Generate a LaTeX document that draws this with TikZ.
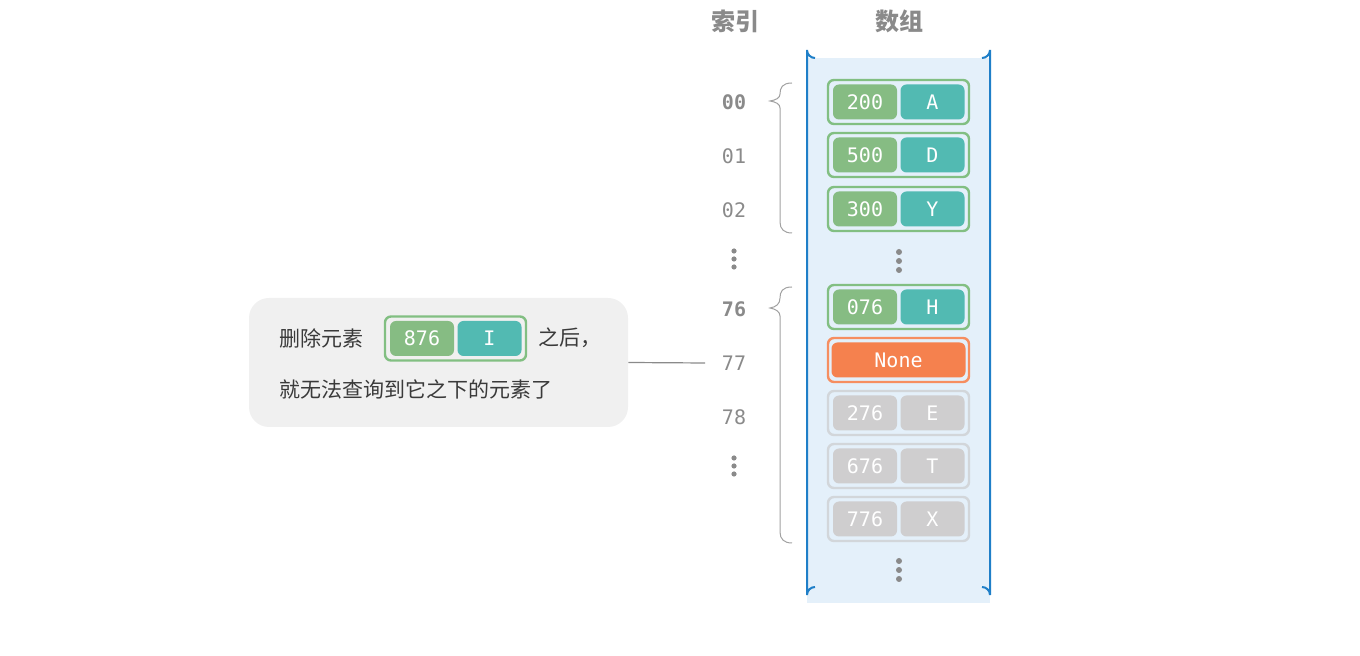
\documentclass[tikz,border=0pt]{standalone}
\usepackage{fontspec}
\setmonofont{DejaVu Sans Mono}
\newfontfamily\cjk{Noto Sans CJK SC}
\usepackage{tikz}
\usetikzlibrary{positioning, calc}
\definecolor{keyG}{HTML}{86BC83}
\definecolor{valT}{HTML}{52BAB2}
\definecolor{boxG}{HTML}{82BF82}
\definecolor{noneO}{HTML}{F5814E}
\definecolor{greyC}{HTML}{CFCECF}
\definecolor{greyB}{HTML}{D2D6DA}
\definecolor{panelB}{HTML}{E4F0FA}
\definecolor{edgeB}{HTML}{1F7FC8}
\definecolor{txtG}{HTML}{8A8A8A}
\definecolor{txtD}{HTML}{3A3A3A}
\tikzset{
  outerbox/.style={draw=#1, line width=1.2pt, rounded corners=3pt, minimum width=70.5pt, minimum height=22pt, inner sep=0pt},
  cellbox/.style={fill=#1, rounded corners=3pt, minimum width=32pt, minimum height=17.5pt, inner sep=0pt, text=white, font=\ttfamily\fontsize{10}{10}\selectfont},
  idx/.style={text=txtG, font=\ttfamily\fontsize{10}{10}\selectfont},
  vdot/.style={circle, fill=txtG, inner sep=0pt, minimum size=3pt},
  brace/.style={draw=txtG!80, line width=0.5pt},
}
\begin{document}
\begin{tikzpicture}[x=0.5pt, y=-0.5pt]
\useasboundingbox (0,0) rectangle (1360,656);
% --- Array panel ---
\fill[panelB] (807,58) rectangle (990,603);
\draw[edgeB, line width=1pt] (815,58) arc[start angle=90, end angle=180, radius=8] -- (807,595) arc[start angle=180, end angle=270, radius=8];
\draw[edgeB, line width=1pt] (982,58) arc[start angle=90, end angle=0, radius=8] -- (990,595) arc[start angle=0, end angle=-90, radius=8];

% --- Headers ---
\node[text=txtG, font=\cjk\bfseries\fontsize{12}{12}\selectfont] (hidx) at (735,21) {索引};
\node[text=txtG, font=\cjk\bfseries\fontsize{12}{12}\selectfont] (harr) at (899,21) {数组};

% --- Buckets ---
\foreach \y/\k/\v/\n in {102/200/A/a, 155/500/D/b, 209/300/Y/c, 307/076/H/d}{
  \node[outerbox=boxG] (row\n) at (898.5,\y) {};
  \node[cellbox=keyG] (key\n) at (865,\y) {\k};
  \node[cellbox=valT] (val\n) at (932.5,\y) {\v};
}
\node[outerbox=noneO!90] (rowe) at (898.5,360) {};
\node[cellbox=noneO, minimum width=67pt] (vale) at (898.5,360) {None};
\foreach \y/\k/\v/\n in {413/276/E/f, 466/676/T/g, 519/776/X/h}{
  \node[outerbox=greyB] (row\n) at (898.5,\y) {};
  \node[cellbox=greyC] (key\n) at (865,\y) {\k};
  \node[cellbox=greyC] (val\n) at (932.5,\y) {\v};
}
\foreach \y in {252,261,270,561,570,579} \node[vdot] at (899,\y) {};

% --- Index column ---
\node[idx, font=\ttfamily\bfseries\fontsize{10}{10}\selectfont] (i00) at (734,102) {00};
\node[idx] (i01) at (734,156) {01};
\node[idx] (i02) at (734,210) {02};
\node[idx, font=\ttfamily\bfseries\fontsize{10}{10}\selectfont] (i76) at (734,309) {76};
\node[idx] (i77) at (734,363) {77};
\node[idx] (i78) at (734,417) {78};
\foreach \y in {251,259,267,458,466,474} \node[vdot, minimum size=2.6pt] at (734,\y) {};

% --- Braces ---
\draw[brace] (792,83) .. controls (782,83) and (780,88) .. (780,94) .. controls (780,98) and (776,100) .. (770,101)
  .. controls (776,102) and (780,104) .. (780,108) -- (780,222) .. controls (780,229) and (784,233) .. (792,233);
\draw[brace] (792,287) .. controls (782,287) and (780,292) .. (780,298) .. controls (780,304) and (776,307) .. (770,308)
  .. controls (776,309) and (780,312) .. (780,316) -- (780,532) .. controls (780,539) and (784,543) .. (792,543);

% --- Callout ---
\node[fill=black!6, rounded corners=10pt, minimum width=189.5pt, minimum height=64.5pt, inner sep=0pt] (note) at (438.5,362.5) {};
\coordinate (tip) at (705,363);
\draw[txtG, line width=0.6pt] (note.east) -- (tip);
\node[anchor=west, text=txtD, font=\cjk\fontsize{10.5}{10.5}\selectfont, inner sep=0pt] (t1) at (279,338) {删除元素};
\node[outerbox=boxG] (rowi) at (455.5,338.5) {};
\node[cellbox=keyG] (keyi) at (422,338.5) {876};
\node[cellbox=valT] (vali) at (489.5,338.5) {I};
\node[anchor=west, text=txtD, font=\cjk\fontsize{10.5}{10.5}\selectfont, inner sep=0pt] (t2) at (538,338) {之后，};
\node[anchor=west, text=txtD, font=\cjk\fontsize{10.5}{10.5}\selectfont, inner sep=0pt] (t3) at (279,389) {就无法查询到它之下的元素了};
\end{tikzpicture}
\end{document}
